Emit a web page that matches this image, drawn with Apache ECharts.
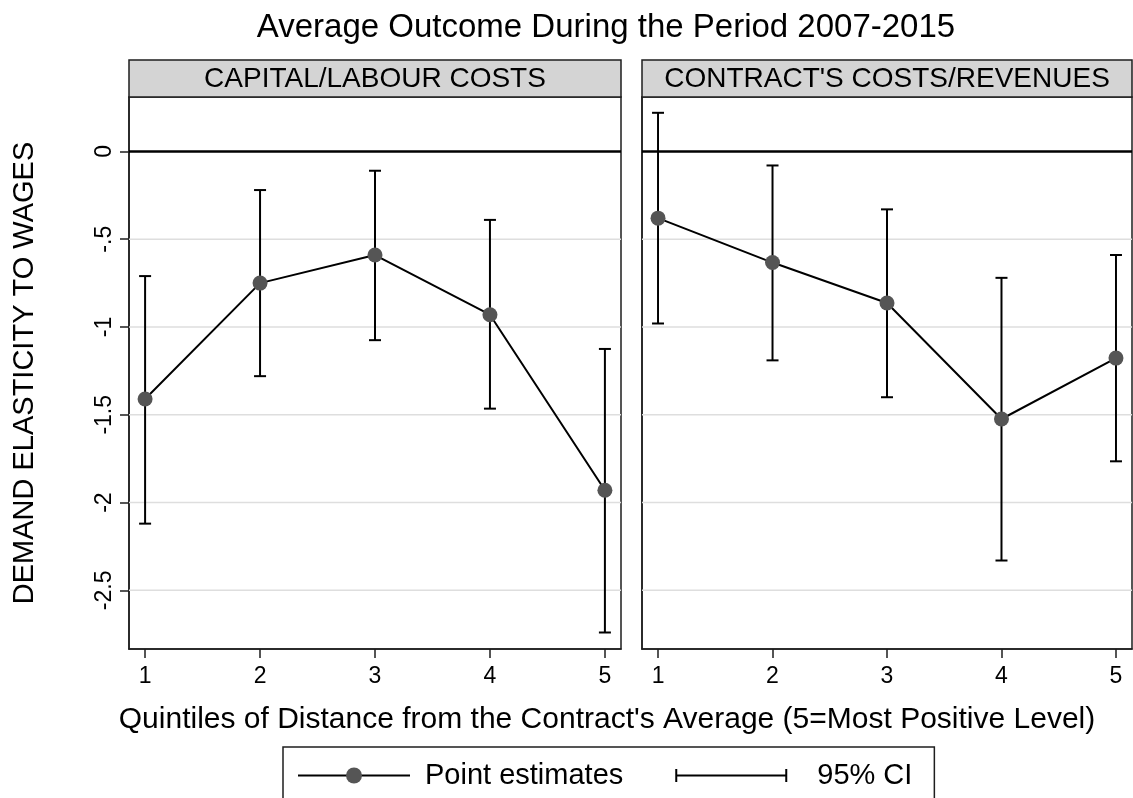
<!DOCTYPE html>
<html>
<head>
<meta charset="utf-8">
<script src="https://cdn.jsdelivr.net/npm/echarts@6/dist/echarts.min.js"></script>
<style>
html,body{margin:0;padding:0;background:#fff;}
#chart{width:1133px;height:798px;}
</style>
</head>
<body>
<div id="chart"></div>
<script>
// ---- data ----
const quintiles = [1, 2, 3, 4, 5];
const capLabourEst  = [-1.41, -0.75, -0.59, -0.93, -1.93];
const capLabourLow  = [-2.12, -1.28, -1.075, -1.465, -2.74];
const capLabourHigh = [-0.71, -0.22, -0.11, -0.39, -1.125];
const contractEst   = [-0.38, -0.633, -0.863, -1.524, -1.177];
const contractLow   = [-0.98, -1.19, -1.40, -2.33, -1.765];
const contractHigh  = [0.22, -0.08, -0.33, -0.72, -0.59];
const yTicks = [0, -0.5, -1, -1.5, -2, -2.5];
const yTickLabels = ['0', '-.5', '-1', '-1.5', '-2', '-2.5'];
const xTicks = [1, 2, 3, 4, 5];
const panelTitles = ['CAPITAL/LABOUR COSTS', "CONTRACT'S COSTS/REVENUES"];
const chartTitle = 'Average Outcome During the Period 2007-2015';
const xTitle = "Quintiles of Distance from the Contract's Average (5=Most Positive Level)";
const yTitle = 'DEMAND ELASTICITY TO WAGES';
const legendNames = ['Point estimates', '95% CI'];

const FONT = '"Liberation Sans", Arial, Helvetica, sans-serif';
const frameColor = '#1e1e1e';

const grids = [
  {left: 129, top: 97, width: 492, height: 552},
  {left: 642, top: 97, width: 490, height: 552}
];

function xAxisCfg(i) {
  return {
    gridIndex: i, type: 'value', min: 0.86, max: 5.14,
    axisLine: {show: true, onZero: false, lineStyle: {color: frameColor, width: 1.5}},
    axisTick: {show: true, length: 9, customValues: xTicks, lineStyle: {color: frameColor, width: 1.5}},
    axisLabel: {customValues: xTicks, fontSize: 23, color: '#000', fontFamily: FONT, margin: 16},
    splitLine: {show: false}
  };
}
function yAxisCfg(i) {
  return {
    gridIndex: i, type: 'value', min: -2.834, max: 0.31,
    axisLine: {show: true, onZero: false, lineStyle: {color: frameColor, width: 1.5}},
    axisTick: {show: i === 0, length: 9, customValues: yTicks, lineStyle: {color: frameColor, width: 1.5}},
    axisLabel: {
      show: i === 0, customValues: yTicks, rotate: 90, fontSize: 23, color: '#000',
      fontFamily: FONT, margin: 13,
      formatter: function (v) {
        const k = yTicks.findIndex(t => Math.abs(t - v) < 1e-9);
        return k >= 0 ? yTickLabels[k] : '';
      }
    },
    splitLine: {show: false}
  };
}

function gridLineSeries(i) {
  return {
    type: 'custom', xAxisIndex: i, yAxisIndex: i, z: 1, silent: true,
    data: yTicks.map(v => [v]),
    encode: {y: 0},
    renderItem: function (params, api) {
      const v = api.value(0);
      const y = api.coord([1, v])[1];
      const cs = params.coordSys;
      const isZero = Math.abs(v) < 1e-9;
      return {
        type: 'line',
        shape: {x1: cs.x, y1: y, x2: cs.x + cs.width, y2: y},
        style: {stroke: isZero ? '#000' : '#dedede', lineWidth: isZero ? 2.6 : 1.5}
      };
    }
  };
}

function ciSeries(i, lo, hi) {
  return {
    name: legendNames[1], type: 'custom', xAxisIndex: i, yAxisIndex: i, z: 3,
    itemStyle: {color: '#000'},
    data: quintiles.map((q, k) => [q, lo[k], hi[k]]),
    encode: {x: 0, y: [1, 2]},
    renderItem: function (params, api) {
      const x = api.value(0);
      const pLo = api.coord([x, api.value(1)]);
      const pHi = api.coord([x, api.value(2)]);
      const hw = 6;
      const st = {stroke: '#000', lineWidth: 2, fill: null};
      return {
        type: 'group', children: [
          {type: 'line', shape: {x1: pLo[0], y1: pLo[1], x2: pHi[0], y2: pHi[1]}, style: st},
          {type: 'line', shape: {x1: pLo[0] - hw, y1: pLo[1], x2: pLo[0] + hw, y2: pLo[1]}, style: st},
          {type: 'line', shape: {x1: pHi[0] - hw, y1: pHi[1], x2: pHi[0] + hw, y2: pHi[1]}, style: st}
        ]
      };
    }
  };
}

function pointSeries(i, est) {
  return {
    name: legendNames[0], type: 'line', xAxisIndex: i, yAxisIndex: i, z: 4,
    data: quintiles.map((q, k) => [q, est[k]]),
    symbol: 'circle', symbolSize: 15, showSymbol: true,
    itemStyle: {color: '#555555'},
    lineStyle: {color: '#000', width: 2},
    emphasis: {disabled: true},
    animation: false
  };
}

const graphics = [];
graphics.push({type: 'text', style: {text: chartTitle, x: 606, y: 28, textAlign: 'center', textVerticalAlign: 'middle', font: '33px ' + FONT, fill: '#000'}});
grids.forEach((g, i) => {
  graphics.push({type: 'rect', shape: {x: g.left, y: 60, width: g.width, height: 37},
    style: {fill: '#d4d4d4', stroke: frameColor, lineWidth: 1.5}, z: 10});
  graphics.push({type: 'text', style: {text: panelTitles[i], x: g.left + g.width / 2, y: 79,
    textAlign: 'center', textVerticalAlign: 'middle', font: '28px ' + FONT, fill: '#000'}, z: 11});
});
graphics.push({type: 'text', rotation: Math.PI / 2, x: 25, y: 373,
  style: {text: yTitle, x: 0, y: 0, textAlign: 'center', textVerticalAlign: 'middle', font: '29px ' + FONT, fill: '#000'}});
graphics.push({type: 'text', style: {text: xTitle, x: 607, y: 720, textAlign: 'center', textVerticalAlign: 'middle', font: '30px ' + FONT, fill: '#000'}});

const option = {
  animation: false,
  backgroundColor: '#fff',
  grid: grids.map(g => Object.assign({show: true, borderColor: frameColor, borderWidth: 1.5, backgroundColor: '#fff', containLabel: false}, g)),
  xAxis: [xAxisCfg(0), xAxisCfg(1)],
  yAxis: [yAxisCfg(0), yAxisCfg(1)],
  legend: {
    left: 283, top: 747,
    orient: 'horizontal',
    data: [
      {name: legendNames[0]},
      {name: legendNames[1], icon: 'path://M0,3.5h2v13h-2z M0,9h112v2h-112z M110,3.5h2v13h-2z',
        textStyle: {fontSize: 29, fontFamily: FONT, color: '#000', padding: [0, 0, 0, 25]}}
    ],
    itemWidth: 112, itemHeight: 20, itemGap: 52,
    padding: [14, 22, 40, 14],
    borderColor: frameColor, borderWidth: 1.5,
    selectedMode: false,
    textStyle: {fontSize: 29, fontFamily: FONT, color: '#000', padding: [0, 0, 0, 10]}
  },
  graphic: graphics,
  series: [
    gridLineSeries(0), gridLineSeries(1),
    ciSeries(0, capLabourLow, capLabourHigh), ciSeries(1, contractLow, contractHigh),
    pointSeries(0, capLabourEst), pointSeries(1, contractEst)
  ]
};

const chart = echarts.init(document.getElementById('chart'), null, {renderer: 'canvas'});
chart.setOption(option);
</script>
</body>
</html>
